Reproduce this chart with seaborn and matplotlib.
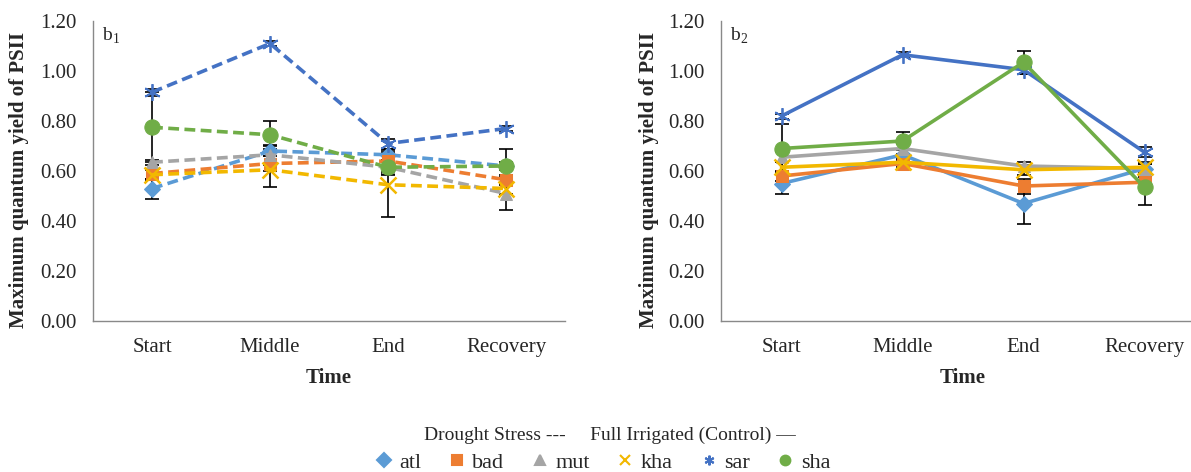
import pandas as pd
import seaborn as sns
import matplotlib
import matplotlib.pyplot as plt
from matplotlib.lines import Line2D

matplotlib.use('Agg')

times = ['Start', 'Middle', 'End', 'Recovery']
cultivars = ['atl', 'bad', 'mut', 'kha', 'sar', 'sha']

# drought stress (b1)
drought = {
    'atl': [0.53, 0.68, 0.665, 0.62],
    'bad': [0.59, 0.63, 0.64, 0.565],
    'mut': [0.635, 0.665, 0.615, 0.51],
    'kha': [0.585, 0.605, 0.545, 0.53],
    'sar': [0.915, 1.11, 0.71, 0.77],
    'sha': [0.775, 0.745, 0.615, 0.62],
}
drought_err = {
    'atl': [0.04, 0.02, 0.02, 0.015],
    'bad': [0.02, 0.03, 0.05, 0.02],
    'mut': [0.01, 0.04, 0.02, 0.065],
    'kha': [0.02, 0.07, 0.13, 0.02],
    'sar': [0.015, 0.01, 0.02, 0.01],
    'sha': [0.14, 0.055, 0.03, 0.07],
}

# full irrigated control (b2)
control = {
    'atl': [0.55, 0.665, 0.47, 0.61],
    'bad': [0.58, 0.63, 0.54, 0.555],
    'mut': [0.655, 0.69, 0.62, 0.61],
    'kha': [0.615, 0.635, 0.605, 0.615],
    'sar': [0.82, 1.065, 1.005, 0.675],
    'sha': [0.69, 0.72, 1.035, 0.535],
}
control_err = {
    'atl': [0.04, 0.02, 0.08, 0.02],
    'bad': [0.02, 0.02, 0.03, 0.02],
    'mut': [0.02, 0.02, 0.015, 0.02],
    'kha': [0.02, 0.02, 0.02, 0.02],
    'sar': [0.01, 0.01, 0.015, 0.02],
    'sha': [0.10, 0.035, 0.045, 0.07],
}

colors = {'atl': '#5B9BD5', 'bad': '#ED7D31', 'mut': '#A5A5A5',
          'kha': '#F2B800', 'sar': '#4472C4', 'sha': '#70AD47'}
markers = {'atl': 'D', 'bad': 's', 'mut': '^', 'kha': 'x',
           'sar': (6, 2, 0), 'sha': 'o'}
msizes = {'atl': 8, 'bad': 9, 'mut': 9, 'kha': 11, 'sar': 12, 'sha': 11}

sns.set_style('white')
plt.rcParams['font.family'] = ['Liberation Serif', 'DejaVu Serif']
plt.rcParams['mathtext.fontset'] = 'custom'
plt.rcParams['mathtext.rm'] = 'Liberation Serif'


def to_long(values):
    rows = []
    for c in cultivars:
        for t, v in zip(times, values[c]):
            rows.append({'Time': t, 'Cultivar': c, 'Yield': v})
    return pd.DataFrame(rows)


def draw_panel(ax, values, errs, dashed, tag):
    df = to_long(values)
    for c in cultivars:
        sub = df[df['Cultivar'] == c]
        ax.errorbar(sub['Time'], sub['Yield'], yerr=errs[c], fmt='none',
                    ecolor='black', elinewidth=1.2, capsize=5, capthick=1.2, zorder=2)
    for c in cultivars:
        sub = df[df['Cultivar'] == c]
        filled = c not in ('kha', 'sar')
        kw = dict(marker=markers[c], markersize=msizes[c], color=colors[c],
                  markeredgecolor=colors[c], linewidth=2.6, zorder=3)
        if not filled:
            kw.update(markeredgewidth=1.8 if c == 'kha' else 1.3)
        line = sns.lineplot(data=sub, x='Time', y='Yield', ax=ax, **kw)
        line.lines[-1].set_linestyle((0, (3, 1.5)) if dashed else '-')

    ax.set_xlim(-0.5, 3.5)
    ax.set_ylim(0, 1.2)
    ax.set_yticks([0, 0.2, 0.4, 0.6, 0.8, 1.0, 1.2])
    ax.set_yticklabels([f'{v:.2f}' for v in ax.get_yticks()])
    ax.set_xticks(range(len(times)))
    ax.set_xticklabels(times)
    ax.set_xticks([-0.5, 0.5, 1.5, 2.5, 3.5], minor=True)
    ax.tick_params(axis='x', which='major', length=0, labelsize=15, pad=12)
    ax.tick_params(axis='x', which='minor', length=5, width=1, color='#898989', direction='out')
    ax.tick_params(axis='y', length=5, width=1, color='#898989', direction='out', labelsize=15, pad=7)
    for s in ['top', 'right']:
        ax.spines[s].set_visible(False)
    for s in ['left', 'bottom']:
        ax.spines[s].set_color('#898989')
        ax.spines[s].set_linewidth(1)
    ax.set_xlabel('Time', fontsize=15, fontweight='bold')
    ax.set_ylabel('Maximum quantum yield of PSII', fontsize=15, fontweight='bold')
    ax.xaxis.set_label_coords(0.5, -0.155)
    ax.text(0.018, 0.985, tag, transform=ax.transAxes, fontsize=14, va='top', ha='left')
    ax.grid(False)


fig = plt.figure(figsize=(11.91, 4.72), dpi=100)
ax1 = fig.add_axes([0.0781, 0.3199, 0.3963, 0.6356])
ax2 = fig.add_axes([0.6054, 0.3199, 0.4064, 0.6356])

draw_panel(ax1, drought, drought_err, True, r'b$_1$')
draw_panel(ax2, control, control_err, False, r'b$_2$')
ax1.yaxis.set_label_coords(-0.135, 0.47)
ax2.yaxis.set_label_coords(-0.128, 0.47)

fig.text(0.512, 0.078, 'Drought Stress ---     Full Irrigated (Control) \u2014',
         ha='center', va='center', fontsize=14)

handles = [Line2D([], [], linestyle='none', marker=markers[c], color=colors[c],
                  markersize=7, markeredgewidth=1.5) for c in cultivars]
fig.legend(handles, cultivars, loc='center', bbox_to_anchor=(0.505, 0.02), ncol=6,
           frameon=False, fontsize=16, handletextpad=0.2, columnspacing=1.1,
           handlelength=1.0, borderpad=0)

fig.savefig('out.png', dpi=100)
